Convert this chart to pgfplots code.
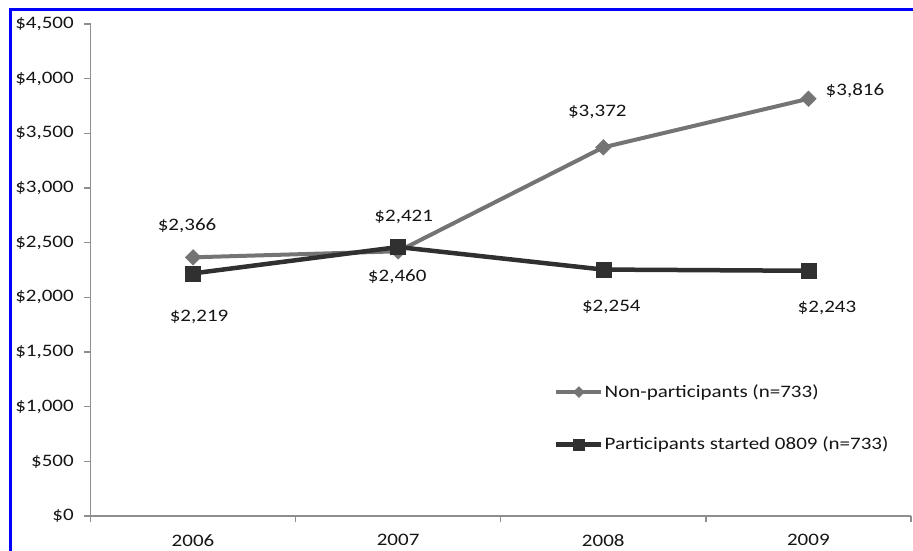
\documentclass[border=0pt]{standalone}
\usepackage{fontspec}
\setmainfont{Carlito}[FakeStretch=1.2]
\usepackage{pgfplots}
\pgfplotsset{compat=1.18}
\definecolor{nonpart}{HTML}{747474}
\definecolor{part}{HTML}{303030}
\definecolor{axgray}{HTML}{8E8E8E}
\definecolor{txt}{HTML}{151515}
\begin{document}
\fontsize{17.5}{21}\selectfont
\begin{tikzpicture}[font=\fontsize{17.5}{21}\selectfont]
\useasboundingbox (0pt,0pt) rectangle (913pt,550pt);
\draw[blue, line width=2.7pt] (10.5pt,-10pt) |- (925pt,540.7pt);
\begin{axis}[
  at={(90.5pt,34pt)}, anchor=south west,
  scale only axis, width=820.5pt, height=492pt,
  xmin=-0.5, xmax=3.5, ymin=0, ymax=4500,
  axis x line*=bottom, axis y line*=left,
  axis line style={axgray, line width=1.6pt},
  tick style={axgray, line width=1.3pt},
  major tick length=6pt, tick align=outside,
  xtick={-0.5,0.5,1.5,2.5,3.5},
  xticklabels={2006,2007,2008,2009,{}},
  xticklabel style={xshift=102.5pt, yshift=-6.5pt, text=txt},
  ytick={0,500,...,4500},
  yticklabel={\$\pgfmathprintnumber{\tick}},
  yticklabel style={xshift=-4.7pt, text=txt},
  /pgf/number format/assume math mode=true,
  /pgf/number format/.cd, fixed, precision=0, 1000 sep={,},
  /pgfplots/.cd,
  clip=false,
  legend cell align=left,
  legend style={draw=none, fill=none, at={(0.5649,0.27)}, anchor=north west,
    inner sep=0pt, row sep=35pt, nodes={inner sep=1pt, text=txt}},
  legend image code/.code={\draw[mark repeat=2,mark phase=2,#1] plot coordinates {(0pt,0pt) (22.5pt,0pt) (45pt,0pt)};},
  legend image post style={every mark/.append style={scale=0.7}},
]
\addplot[nonpart, line width=4pt, mark=square*, mark size=5.5pt,
  mark options={rotate=45, line width=0.5pt, solid}]
  coordinates {(0,2366) (1,2421) (2,3372) (3,3816)};
\addlegendentry{Non-participants (n=733)}
\addplot[part, line width=4.5pt, mark=square*, mark size=7.5pt,
  mark options={line width=0.5pt, solid}]
  coordinates {(0,2219) (1,2460) (2,2254) (3,2243)};
\addlegendentry{Participants started 0809 (n=733)}
\node[text=txt, xshift=-6pt, yshift=32pt] at (axis cs:0,2366) {\$2,366};
\node[text=txt, xshift=6pt, yshift=-44pt] at (axis cs:0,2219) {\$2,219};
\node[text=txt, xshift=5.5pt, yshift=34pt] at (axis cs:1,2421) {\$2,421};
\node[text=txt, xshift=-1pt, yshift=-30pt] at (axis cs:1,2460) {\$2,460};
\node[text=txt, xshift=-6pt, yshift=35pt] at (axis cs:2,3372) {\$3,372};
\node[text=txt, xshift=8pt, yshift=-37pt] at (axis cs:2,2254) {\$2,254};
\node[text=txt, xshift=46.5pt, yshift=8.5pt] at (axis cs:3,3816) {\$3,816};
\node[text=txt, xshift=18.5pt, yshift=-37pt] at (axis cs:3,2243) {\$2,243};
\end{axis}
\end{tikzpicture}
\end{document}
